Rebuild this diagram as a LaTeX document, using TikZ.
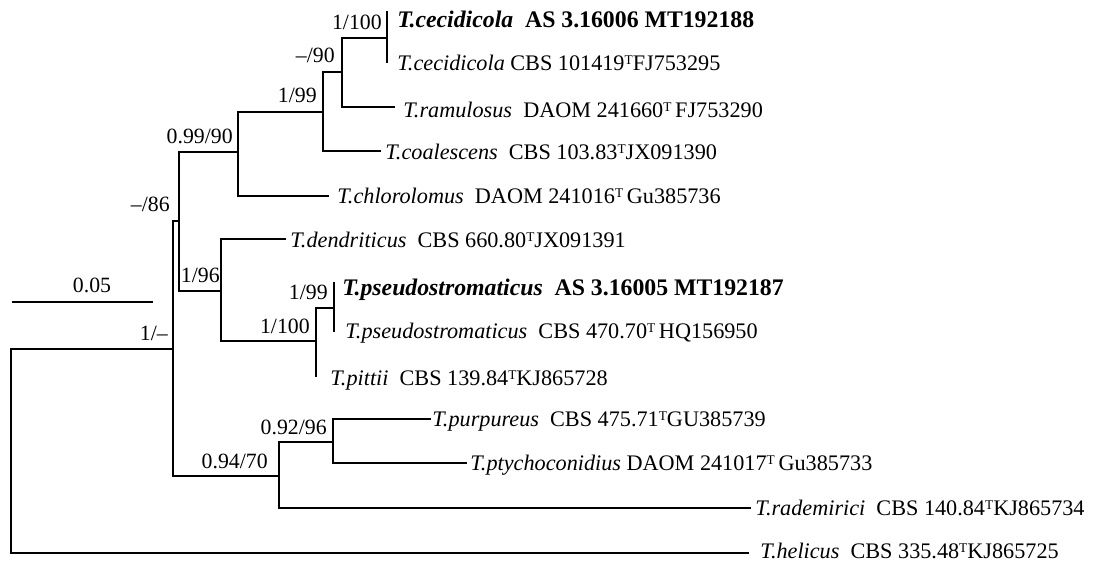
\documentclass[tikz,border=0pt]{standalone}
\usepackage{fontspec}
\setmainfont{Liberation Serif}
\usetikzlibrary{positioning}
\newcommand{\exT}{{\fontsize{9.5}{9.5}\selectfont\raisebox{4.2pt}{T}}}

\begin{document}
\begin{tikzpicture}[x=0.025cm,y=-0.025cm,
  branch/.style={line width=1.3pt,line cap=rect},
  taxon/.style={anchor=base west,inner sep=0pt,font=\fontsize{15.8}{18}\selectfont},
  ours/.style={taxon,font=\fontsize{16.9}{19}\selectfont\bfseries},
  support/.style={anchor=base east,inner sep=0pt,font=\fontsize{15.5}{18}\selectfont}
]
\useasboundingbox (0,0) rectangle (1097,562);
% internal nodes
\coordinate (root) at (11,349);
\coordinate (n1) at (173,349);
\coordinate (n2) at (179,221);
\coordinate (n3) at (238,152);
\coordinate (n4) at (323,112);
\coordinate (n5) at (342,72);
\coordinate (n6) at (387,38);
\coordinate (n7) at (221,291);
\coordinate (n8) at (316,341);
\coordinate (n9) at (334,308);
\coordinate (n10) at (279,476);
\coordinate (n11) at (333,442);
% tips
\coordinate (t1) at (387,12);
\coordinate (t2) at (387,62);
\coordinate (t3) at (394,107);
\coordinate (t4) at (380,151);
\coordinate (t5) at (328,196);
\coordinate (t6) at (285,239);
\coordinate (t7) at (334,283);
\coordinate (t8) at (334,331);
\coordinate (t9) at (316,376);
\coordinate (t10) at (430,419);
\coordinate (t11) at (466,463);
\coordinate (t12) at (750,508);
\coordinate (t13) at (748,553);

% branches
\draw[branch] (root) -- (n1);
\draw[branch] (root) |- (t13);
\draw[branch] (n1) |- (n2);
\draw[branch] (n1) |- (n10);
\draw[branch] (n2) |- (n3);
\draw[branch] (n2) |- (n7);
\draw[branch] (n3) |- (n4);
\draw[branch] (n3) |- (t5);
\draw[branch] (n4) |- (n5);
\draw[branch] (n4) |- (t4);
\draw[branch] (n5) |- (n6);
\draw[branch] (n5) |- (t3);
\draw[branch] (t1) -- (t2);
\draw[branch] (n7) |- (t6);
\draw[branch] (n7) |- (n8);
\draw[branch] (n8) |- (n9);
\draw[branch] (n8) |- (t9);
\draw[branch] (t7) -- (t8);
\draw[branch] (n10) |- (n11);
\draw[branch] (n10) |- (t12);
\draw[branch] (n11) |- (t10);
\draw[branch] (n11) |- (t11);

% support values
\node[support] (s6) at ([shift={(-5,-9)}]n6) {1/100};
\node[support] (s5) at ([shift={(-7,-10)}]n5) {--/90};
\node[support] (s4) at ([shift={(-6,-10)}]n4) {1/99};
\node[support] (s3) at ([shift={(-5,-9)}]n3) {0.99/90};
\node[support] (s2) at ([shift={(-9,-10)}]n2) {--/86};
\node[support] (s7) at ([shift={(-1,-9)}]n7) {1/96};
\node[support] (s9) at ([shift={(-6,-9)}]n9) {1/99};
\node[support] (s8) at ([shift={(-6,-8)}]n8) {1/100};
\node[support] (s1) at ([shift={(-5,-9)}]n1) {1/--};
\node[support] (s11) at ([shift={(-6,-8)}]n11) {0.92/96};
\node[support] (s10) at ([shift={(-11,-8)}]n10) {0.94/70};

% taxa
\node[ours] (cecAS) at (397,27) {\textit{T.cecidicola}\ \ AS 3.16006 MT192188};
\node[taxon] (cecCBS) at (397,70) {\textit{T.cecidicola} CBS 101419\exT FJ753295};
\node[taxon] (ram) at (403,117) {\textit{T.ramulosus}\ \ DAOM 241660\exT\,FJ753290};
\node[taxon] (coa) at (385,159) {\textit{T.coalescens}\ \ CBS 103.83\exT JX091390};
\node[taxon] (chl) at (337,203) {\textit{T.chlorolomus}\ \ DAOM 241016\exT\,Gu385736};
\node[taxon] (den) at (290,247) {\textit{T.dendriticus}\ \ CBS 660.80\exT JX091391};
\node[ours] (psdAS) at (342,295) {\textit{T.pseudostromaticus}\ \ AS 3.16005 MT192187};
\node[taxon] (psdCBS) at (345,338) {\textit{T.pseudostromaticus}\ \ CBS 470.70\exT\,HQ156950};
\node[taxon] (pit) at (330,385) {\textit{T.pittii}\ \ CBS 139.84\exT KJ865728};
\node[taxon] (pur) at (432,426) {\textit{T.purpureus}\ \ CBS 475.71\exT GU385739};
\node[taxon] (pty) at (470,470) {\textit{T.ptychoconidius} DAOM 241017\exT\,Gu385733};
\node[taxon] (rad) at (755,515) {\textit{T.rademirici}\ \ CBS 140.84\exT KJ865734};
\node[taxon] (hel) at (760,558) {\textit{T.helicus}\ \ CBS 335.48\exT KJ865725};

% scale bar
\coordinate (bar1) at (12,302);
\coordinate (bar2) at (153,302);
\draw[line width=1.1pt] (bar1) -- (bar2);
\node[support,anchor=base] (barlab) at (92,292) {0.05};
\end{tikzpicture}
\end{document}
